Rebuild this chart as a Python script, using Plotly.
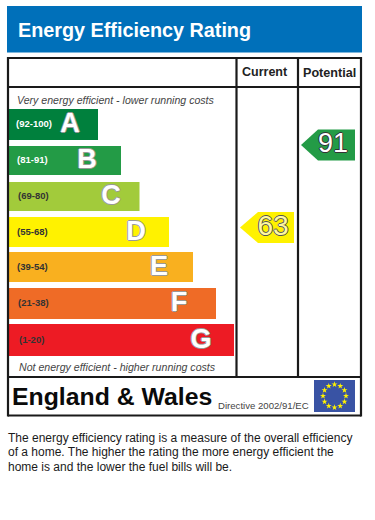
import math
import plotly.graph_objects as go

# --- data ---
band_letters = ["A", "B", "C", "D", "E", "F", "G"]
band_ranges = ["(92-100)", "(81-91)", "(69-80)", "(55-68)", "(39-54)", "(21-38)", "(1-20)"]
band_lengths = [89, 112, 130.5, 160, 184, 207, 225]
band_colors = ["#00803D", "#239B46", "#A2CB3B", "#FFF200", "#F9B01F", "#EF6B26", "#ED1B24"]
range_text_colors = ["#FFFFFF", "#FFFFFF", "#333333", "#333333", "#333333", "#333333", "#333333"]
current_rating = 63
potential_rating = 91
title_text = "Energy Efficiency Rating"
col_headers = ["Current", "Potential"]
top_note = "Very energy efficient - lower running costs"
bottom_note = "Not energy efficient - higher running costs"
region = "England & Wales"
directive = "Directive 2002/91/EC"
caption = ["The energy efficiency rating is a measure of the overall efficiency",
           "of a home. The higher the rating the more energy efficient the",
           "home is and the lower the fuel bills will be."]

FONT = "Liberation Sans, Arial, sans-serif"
band_top = [109, 146, 182, 217, 252, 288, 324]
band_bot = [140, 175, 211, 247, 282, 319, 356]
band_mid = [(a + b) / 2 for a, b in zip(band_top, band_bot)]
band_h = [b - a for a, b in zip(band_top, band_bot)]

def outline(c, w=1):
    return f"{w}px 0 {c}, -{w}px 0 {c}, 0 {w}px {c}, 0 -{w}px {c}"

fig = go.Figure()
fig.add_trace(go.Bar(x=band_lengths, y=band_mid, base=9, width=band_h, orientation="h",
                     marker=dict(color=band_colors, line_width=0), hoverinfo="skip"))

# range labels
range_x = [14, 15, 16, 15, 15, 16, 17]
for x, y, t, c in zip(range_x, band_mid, band_ranges, range_text_colors):
    fig.add_annotation(x=x, y=y - 1, text=f"<b>{t}</b>", xanchor="left", yanchor="middle", showarrow=False,
                       font=dict(family=FONT, size=9.5, color=c))

# letters
letter_x = [70, 87, 111, 136, 159, 179, 201]
fig.add_trace(go.Scatter(x=letter_x, y=[m + 1 for m in band_mid], mode="text", text=band_letters,
                         textposition="middle center", hoverinfo="skip",
                         textfont=dict(family=FONT, size=27, weight="bold", color="#FFFFFF",
                                       shadow=outline("#999999"))))

# arrows
def arrow(x0, x1, x2, y0, y1, col):
    return dict(type="path", path=f"M{x0},{(y0+y1)/2} L{x1},{y0} L{x2},{y0} L{x2},{y1} L{x1},{y1} Z",
                fillcolor=col, line_width=0, layer="below")

shapes = [
    dict(type="rect", x0=7, x1=362, y0=6, y1=52.5, fillcolor="#0070BA", line_width=0, layer="below"),
    arrow(301, 318, 355, 129.5, 160.5, "#239B46"),
    arrow(240, 258, 294, 212, 243, "#FFF200"),
    dict(type="rect", x0=314, x1=355, y0=380, y1=412, fillcolor="#3953A4", line_width=0, layer="below"),
]
LW = 2.2
for (a, b, c, d) in [(8, 361, 58, 58), (8, 361, 87, 87), (8, 361, 377, 377), (8, 361, 415.5, 415.5),
                     (8, 8, 57, 416.5), (361, 361, 57, 416.5), (236.5, 236.5, 57, 377), (298, 298, 57, 377)]:
    shapes.append(dict(type="line", x0=a, x1=b, y0=c, y1=d, line=dict(color="#1a1a1a", width=LW), layer="above"))

# rating numbers
fig.add_trace(go.Scatter(x=[333], y=[145], mode="text", text=[str(potential_rating)], textposition="middle center",
                         hoverinfo="skip", textfont=dict(family=FONT, size=27, color="#FFFFFF", shadow=outline("#333333"))))
fig.add_trace(go.Scatter(x=[273], y=[228], mode="text", text=[str(current_rating)], textposition="middle center",
                         hoverinfo="skip", textfont=dict(family=FONT, size=28, color="#FFF9A0", shadow=outline("#555555"))))

# EU stars
star_x = [334.5 + 11.5 * math.sin(i * math.pi / 6) for i in range(12)]
star_y = [396 - 11.5 * math.cos(i * math.pi / 6) for i in range(12)]
fig.add_trace(go.Scatter(x=star_x, y=star_y, mode="markers", hoverinfo="skip",
                         marker=dict(symbol="star", size=4.5, color="#FFF200", line_width=0)))

def label(x, y, t, size, color="#111111", anchor="left"):
    fig.add_annotation(x=x, y=y, text=t, xanchor=anchor, yanchor="middle", showarrow=False,
                       font=dict(family=FONT, size=size, color=color))

label(15.5, 30, f"<b>{title_text}</b>", 19.8, "#FFFFFF")
label(264.5, 71.5, f"<b>{col_headers[0]}</b>", 12.5, "#222222", "center")
label(329.5, 72.5, f"<b>{col_headers[1]}</b>", 12.6, "#222222", "center")
label(15, 99.5, f"<i>{top_note}</i>", 10.6, "#444444")
label(17, 367, f"<i>{bottom_note}</i>", 10.6, "#444444")
label(10, 396, f"<b>{region}</b>", 24.8, "#0a0a0a")
label(216, 405.5, directive, 9.6, "#444444")
for y, line in zip([437.5, 452, 467], caption):
    label(5.5, y, line, 12, "#1a1a1a")

fig.update_layout(
    width=375, height=520, margin=dict(l=0, r=0, t=0, b=0), showlegend=False,
    paper_bgcolor="white", plot_bgcolor="white", shapes=shapes,
    xaxis=dict(range=[0, 375], visible=False, fixedrange=True),
    yaxis=dict(range=[520, 0], visible=False, fixedrange=True),
)
fig.write_html("out.html", config={"displayModeBar": False},
               post_script="document.body.style.margin='0';")
